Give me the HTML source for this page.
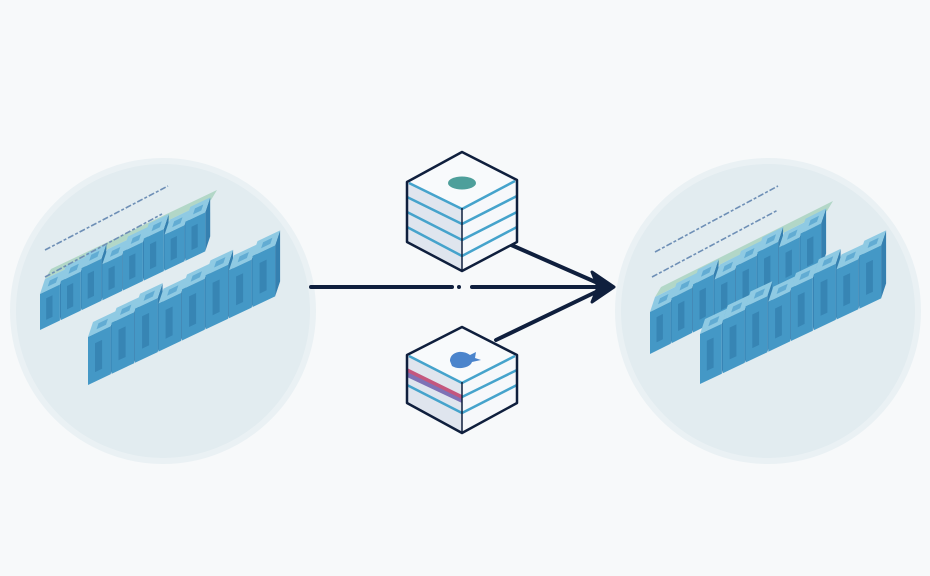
<!DOCTYPE html>
<html><head><meta charset="utf-8"><style>
html,body{margin:0;padding:0;background:#f7f9fa;}
svg{display:block}
</style></head><body>
<svg id="s" width="930" height="576" viewBox="0 0 930 576" xmlns="http://www.w3.org/2000/svg">
<rect width="930" height="576" fill="#f7f9fa"/>
<circle cx="163" cy="311" r="150" fill="#e2ecf0" stroke="#eaf1f4" stroke-width="6"/>
<circle cx="768" cy="311" r="150" fill="#e2ecf0" stroke="#eaf1f4" stroke-width="6"/>
<g id="blocks"></g>
<g stroke="#6e8fb6" stroke-width="1.6" stroke-dasharray="6 2 3 2">
<line x1="45" y1="250" x2="168" y2="186"/>
<line x1="45" y1="277" x2="162" y2="214"/>
<line x1="655" y1="252" x2="778" y2="186"/>
<line x1="652" y1="277" x2="778" y2="210"/>
</g>
<g stroke="#0f1f3d" stroke-width="4" stroke-linecap="round" fill="none">
<line x1="311" y1="287" x2="452" y2="287"/>
<line x1="472" y1="287" x2="604" y2="287"/>
<line x1="509" y1="244" x2="600" y2="284"/>
<line x1="496" y1="340" x2="600" y2="290"/>
</g>
<polygon points="592,272 614,287 592,302 598,287" fill="#0f1f3d" stroke="#0f1f3d" stroke-width="3" stroke-linejoin="round"/>
<circle cx="459" cy="287" r="2" fill="#0f1f3d"/>
<g stroke-linejoin="round">
<polygon points="462,208 407,182 407,242 462,271" fill="#dfe5ee"/>
<polygon points="462,208 517,180 517,242 462,271" fill="#f6f8fb"/>
<polygon points="462,152 407,182 462,208 517,180" fill="#f8fafc"/>
<g stroke="#45a3cc" stroke-width="2.5">
<line x1="407" y1="197" x2="462" y2="224"/><line x1="407" y1="212" x2="462" y2="240"/><line x1="407" y1="227" x2="462" y2="256"/>
<line x1="462" y1="224" x2="517" y2="196"/><line x1="462" y1="240" x2="517" y2="212"/><line x1="462" y1="256" x2="517" y2="227"/>
<line x1="409" y1="183" x2="462" y2="209"/><line x1="462" y1="209" x2="515" y2="181"/>
</g>
<polygon points="462,152 407,182 407,242 462,271 517,242 517,180" fill="none" stroke="#0f1f3d" stroke-width="2.5"/>
<line x1="462" y1="208" x2="462" y2="271" stroke="#0f1f3d" stroke-width="1.5"/>
<ellipse cx="462" cy="183" rx="14" ry="6.5" fill="#4e9f9b"/>
</g>
<g stroke-linejoin="round">
<polygon points="462,382 407,355 407,403 462,433" fill="#dfe5ee"/>
<polygon points="462,382 517,355 517,403 462,433" fill="#f6f8fb"/>
<polygon points="462,327 407,355 462,382 517,355" fill="#f8fafc"/>
<polygon points="407,368 462,395 462,402 407,375" fill="#c4577e"/>
<polygon points="407,372 462,399 462,403 407,377" fill="#7e72b6"/>
<g stroke="#45a3cc" stroke-width="2.5">
<line x1="407" y1="385" x2="462" y2="413"/>
<line x1="462" y1="397" x2="517" y2="370"/><line x1="462" y1="413" x2="517" y2="385"/>
<line x1="409" y1="356" x2="462" y2="383"/><line x1="462" y1="383" x2="515" y2="356"/>
</g>
<polygon points="462,327 407,355 407,403 462,433 517,403 517,355" fill="none" stroke="#0f1f3d" stroke-width="2.5"/>
<line x1="462" y1="382" x2="462" y2="433" stroke="#0f1f3d" stroke-width="1.5"/>
<path d="M450,361 C450,352 462,349 470,355 L476,352 L475,358 L481,360 L472,362 C470,368 458,370 452,366 Z" fill="#4b84cc"/>
</g>
</svg>
<script>
(function(){
var g=document.getElementById('blocks');var out='';
function P(a){return a.map(function(p){return p[0].toFixed(1)+','+p[1].toFixed(1)}).join(' ');}
function row(x0,y0,x1,y1,h,n,green){
  var dx=(x1-x0)/n,dy=(y1-y0)/n,ox=5,oy=-15;
  if(green){
    out+='<polygon points="'+P([[x0+ox,y0-h+oy],[x1+ox,y1-h+oy],[x1+ox+6,y1-h+oy-10],[x0+ox+6,y0-h+oy-10]])+'" fill="#a9d4c0" opacity="0.85"/>';
  }
  for(var i=0;i<n;i++){
    var ax=x0+dx*i,ay=y0+dy*i,bx=ax+dx*0.96,by=ay+dy*0.96;
    var hh=h+((i*7)%3)*3;
    out+='<polygon points="'+P([[bx,by],[bx+ox,by+oy],[bx+ox,by-hh+oy],[bx,by-hh]])+'" fill="#3580b0"/>';
    out+='<polygon points="'+P([[ax,ay-hh],[bx,by-hh],[bx+ox,by-hh+oy],[ax+ox,ay-hh+oy]])+'" fill="#8fcae3"/>';
    out+='<polygon points="'+P([[ax+dx*0.3+ox*0.3,ay+dy*0.3-hh+oy*0.3],[ax+dx*0.7+ox*0.3,ay+dy*0.7-hh+oy*0.3],[ax+dx*0.7+ox*0.7,ay+dy*0.7-hh+oy*0.7],[ax+dx*0.3+ox*0.7,ay+dy*0.3-hh+oy*0.7]])+'" fill="#62acd3"/>';
    out+='<polygon points="'+P([[ax,ay],[bx,by],[bx,by-hh],[ax,ay-hh]])+'" fill="#4498c6"/>';
    out+='<polygon points="'+P([[ax+dx*0.3,ay+dy*0.3-hh*0.2],[ax+dx*0.6,ay+dy*0.6-hh*0.2],[ax+dx*0.6,ay+dy*0.6-hh*0.8],[ax+dx*0.3,ay+dy*0.3-hh*0.8]])+'" fill="#2f78a8" opacity="0.6"/>';
  }
}
row(40,330,206,251,36,8,true);
row(88,385,276,296,48,8,false);
row(650,354,822,268,42,8,true);
row(700,384,882,298,50,8,false);
g.innerHTML=out;
})();
</script>
</body></html>
